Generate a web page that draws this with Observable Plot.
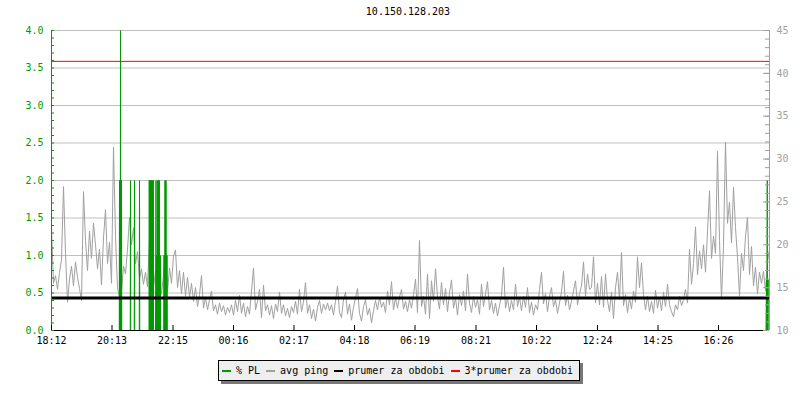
<!DOCTYPE html>
<html><head><meta charset="utf-8">
<script src="https://cdn.jsdelivr.net/npm/d3@7"></script>
<script src="https://cdn.jsdelivr.net/npm/@observablehq/plot@0.6"></script>
<style>
body{margin:0;background:#fff;}
#wrap{position:relative;width:800px;height:400px;font-family:"DejaVu Sans Mono",monospace;font-size:10px;color:#000;}
#title{position:absolute;left:0;top:6px;width:816px;text-align:center;line-height:12px;}
#chart{position:absolute;left:0;top:0;}
#legend{position:absolute;left:218px;top:360px;width:358px;height:19px;border:1px solid #000;background:#eeeeee;box-shadow:3px 3px 0 #777;display:flex;align-items:center;padding-left:2px;box-sizing:content-box;}
.sw{display:inline-block;width:9px;height:2px;margin-left:1px;margin-right:5px;}
.it{display:flex;align-items:center;margin-right:5px;white-space:pre;}
</style></head>
<body><div id="wrap"><div id="chart"></div><div id="title"></div><div id="legend"></div></div>
<script>
const titleText = "10.150.128.203";
// avg ping [ms], one sample every 4 minutes from 18:12
const pingValues = [
22.0,15.5,16.4,14.8,16.8,18.2,26.8,19.0,13.3,16.0,
17.5,15.2,18.0,16.2,14.9,13.5,26.2,20.5,17.0,21.6,
18.4,22.5,20.0,17.2,19.5,15.3,20.8,24.1,17.8,20.3,
15.5,31.4,21.0,15.0,13.8,14.5,17.5,16.6,19.5,23.2,
20.0,22.0,17.8,19.2,16.0,17.2,15.4,16.8,15.1,20.6,
16.5,14.9,17.0,15.6,18.0,14.2,16.5,19.0,14.5,17.3,
15.5,18.7,19.4,15.0,17.0,14.3,16.8,14.0,16.2,13.9,
15.5,13.4,15.0,12.8,14.2,16.4,12.6,13.9,12.4,13.6,
14.6,12.3,13.0,11.9,13.2,12.2,12.9,11.8,12.7,12.1,
13.0,11.8,13.5,12.2,14.1,12.0,13.2,11.6,12.8,11.9,
14.6,17.3,12.4,13.4,14.8,11.5,15.3,12.3,13.0,11.8,
12.9,11.4,13.1,12.2,14.5,12.0,13.0,11.7,12.6,11.5,
12.8,12.1,13.4,11.9,14.8,12.2,13.3,15.6,12.0,13.0,
11.4,12.5,11.1,12.7,13.5,12.0,13.1,12.4,13.2,12.3,
13.0,11.8,13.4,15.2,12.1,11.5,13.6,14.5,11.9,13.1,
11.2,12.7,13.8,14.9,12.0,11.1,12.8,13.6,11.8,12.6,
10.9,12.3,13.5,12.4,13.9,12.7,13.3,12.1,14.6,13.0,
15.7,12.4,13.8,12.6,13.9,14.8,12.5,13.4,12.2,13.6,
12.6,14.2,16.0,12.1,20.5,12.8,14.0,11.9,16.6,11.4,
15.8,13.4,17.2,13.9,12.5,15.6,13.0,14.9,12.2,14.4,
15.9,12.6,13.8,11.8,14.2,12.9,14.6,12.3,16.6,13.2,
12.1,14.0,12.7,13.6,11.9,15.4,12.8,14.3,15.7,12.4,
13.5,12.0,13.2,11.7,12.9,14.1,17.4,12.6,13.8,12.2,
13.5,12.4,15.4,12.8,13.9,12.3,14.0,12.7,15.0,12.1,
13.3,11.8,13.0,12.4,14.8,16.8,13.1,14.3,12.2,14.0,
15.0,12.8,13.6,12.0,13.2,14.5,16.9,12.9,14.1,12.4,
13.4,14.6,15.8,13.0,14.3,15.2,18.0,14.0,16.6,14.8,
15.0,18.6,13.2,15.5,13.0,16.3,12.7,16.6,13.5,12.2,
14.5,11.4,15.0,16.8,13.6,19.1,12.9,14.2,12.1,13.8,
12.5,14.6,13.3,18.6,15.0,17.9,14.2,12.4,14.0,12.2,
13.4,12.0,14.7,12.6,13.9,12.3,14.5,12.8,15.4,13.0,
12.2,11.6,13.0,12.4,14.0,12.9,13.6,14.8,13.2,19.5,
15.4,17.8,22.1,16.5,19.3,17.2,20.0,16.8,21.5,26.3,
18.4,21.0,19.0,30.9,20.5,13.7,19.8,32.0,22.5,25.0,
20.2,26.7,22.0,18.5,14.0,19.0,17.0,21.0,23.2,16.5,
19.8,15.2,17.4,14.3,16.8,15.5,16.9,14.6,18.0,19.5
];
const pingStep = 4; // minutes
// % packet loss samples (minutes since 18:12, value)
const plMinutes = [0,
135.5,136,136.5,137,137.5,138,138.5,139,139.5,140,140.5,
157.5,158,158.5, 165.5,166,166.5, 175.5,176,176.5,
195,195.5,196,196.5,197,197.5,198,198.5,199,199.5,200,200.5,201,201.5,202,202.5,203,203.5,204,
208,208.5,209,209.5,210,210.5,211,211.5,212,212.5,213,213.5,214,214.5,215,215.5,216,216.5,217,217.5,218,
224.5,225,225.5,226,226.5,227,227.5,228,228.5,229,229.5,230,230.5,231,231.5,
1429,1430,1430.5,1431,1431.5,1432,1432.5,1433,1433.5,1434,1436];
const plValues = [0,
0,2,0,2,0,4,0,2,0,2,0,
0,2,0, 0,2,0, 0,2,0,
0,2,0,2,0,2,0,2,0,2,0,2,0,2,0,2,0,2,0,
0,1,2,0,1,0,1,0,1,2,0,2,0,2,0,2,0,1,0,1,0,
0,1,0,1,0,2,0,2,0,2,0,1,0,1,0,
0,0.67,0,0.67,2,0,0.67,0,0.67,0.67,0.67];
const meanPing = 13.8; // prumer za obdobi
const xLabels = ["18:12","20:13","22:15","00:16","02:17","04:18","06:19","08:21","10:22","12:24","14:25","16:26"];
const xEnd = 1436;
const leftMajor = [0,0.5,1,1.5,2,2.5,3,3.5,4];
const rightMajor = [10,15,20,25,30,35,40,45];
const legendItems = [["% PL","#009900"],["avg ping","#a0a0a0"],["prumer za obdobi","#000000"],["3*prumer za obdobi","#ff0000"]];

const green = "#009900", grey = "#a0a0a0";
const toL = p => (p - 10) * 4 / 35;
const startMin = 18*60+12;
const labelMin = s => { const [h,m] = s.split(":").map(Number); return ((h*60+m) - startMin + 1440) % 1440; };
const xTicks = xLabels.map(labelMin);
const pingRows = pingValues.map((p,i) => ({t: i*pingStep, p}));
const plRows = plMinutes.map((t,i) => ({t, v: plValues[i]}));
const leftMinor = d3.range(0, 41).map(i => i/10);
const rightMinor = d3.range(10, 46);
const PW = 718, PH = 300;

const chart = Plot.plot({
  width: 800, height: 355, marginTop: 30, marginBottom: 25, marginLeft: 51, marginRight: 31,
  x: {domain: [0, xEnd]}, y: {domain: [0, 4]},
  style: {fontFamily: "DejaVu Sans Mono", fontSize: "10px", background: "transparent", overflow: "visible"},
  marks: [
    Plot.ruleY(leftMajor.filter(v => v > 0), {stroke: "#c0c0c0"}),
    Plot.line(pingRows, {x: "t", y: d => toL(d.p), stroke: grey, strokeWidth: 1}),
    Plot.line(plRows, {x: "t", y: "v", stroke: green, strokeWidth: 1}),
    Plot.ruleY([toL(meanPing)], {stroke: "black", strokeWidth: 3}),
    Plot.ruleY([toL(3*meanPing)], {stroke: "red", strokeWidth: 1}),
    Plot.ruleX([xEnd], {stroke: grey}),
    Plot.ruleX([0], {stroke: green}),
    Plot.ruleY([0], {stroke: "black"}),
    Plot.ruleY(leftMinor, {stroke: green, insetRight: PW - 3}),
    Plot.ruleY(rightMinor.map(toL), {stroke: grey, insetLeft: PW - 4}),
    Plot.ruleY(rightMajor.map(toL), {stroke: grey, insetLeft: PW - 6}),
    Plot.ruleX(xTicks, {stroke: "black", insetTop: PH - 5}),
    Plot.axisY({ticks: leftMajor, tickSize: 0, tickPadding: 8, tickFormat: d3.format(".1f"), color: green, fill: green, label: null}),
    Plot.axisY({anchor: "right", ticks: rightMajor.map(toL), tickSize: 0, tickPadding: 7, tickFormat: d => String(Math.round(10 + d*35/4)), color: grey, fill: grey, label: null}),
    Plot.axisX({ticks: xTicks, tickSize: 0, tickPadding: 6, tickFormat: d => xLabels[xTicks.indexOf(d)], label: null})
  ]
});
document.getElementById("chart").append(chart);
document.getElementById("title").textContent = titleText;
const lg = document.getElementById("legend");
legendItems.forEach(([name, col]) => {
  const it = document.createElement("span"); it.className = "it";
  const sw = document.createElement("span"); sw.className = "sw"; sw.style.background = col;
  it.append(sw, document.createTextNode(name));
  lg.append(it);
});
</script></body></html>
